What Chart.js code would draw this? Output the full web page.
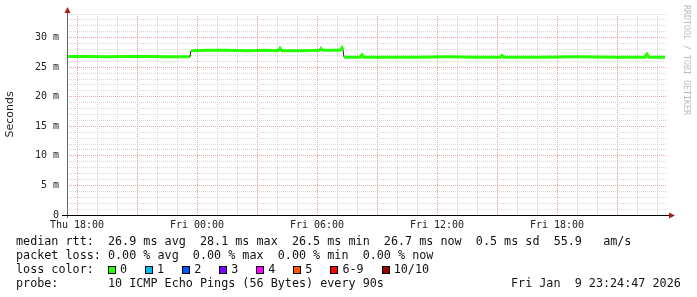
<!DOCTYPE html>
<html>
<head>
<meta charset="utf-8">
<script src="https://cdn.jsdelivr.net/npm/chart.js@4.4.1/dist/chart.umd.min.js"></script>
<style>
body { margin: 0; background: #fff; }
#wrap { position: relative; width: 697px; height: 297px; }
#legend { position: absolute; left: 16px; top: 234px; font-family: 'DejaVu Sans Mono', monospace; font-size: 11.75px; line-height: 14px; color: #111; white-space: pre; }
.box { display: inline-block; width: 8px; height: 8px; box-sizing: border-box; border: 1px solid #000; margin-right: 4px; margin-left: 18px; vertical-align: -1px; }
.box.first { margin-left: 0; }
#stamp { position: absolute; left: 511px; top: 276px; font-family: 'DejaVu Sans Mono', monospace; font-size: 11.75px; line-height: 14px; color: #111; white-space: pre; }
#credit { position: absolute; left: 682px; top: 5px; writing-mode: vertical-rl; font-family: 'DejaVu Sans Mono', monospace; font-size: 8.3px; color: #bbb; }
</style>
</head>
<body>
<div id="wrap">
<canvas id="smokeChart"></canvas>
<div id="legend"></div>
<div id="stamp">Fri Jan  9 23:24:47 2026</div>
<div id="credit">RRDTOOL / TOBI OETIKER</div>
</div>
<script>
// hours counted from Thu 00:00
var times = [17.5, 18.5, 19.5, 20.5, 21.5, 22.5, 23.65, 23.7, 24.5, 25.5, 26.5, 27.5, 28.05, 28.15, 28.25, 29.2, 30.1, 30.2, 30.3, 30.8, 31.15, 31.25, 31.3, 31.35, 32.15, 32.25, 32.35, 33.5, 35, 36.5, 38, 39.15, 39.25, 39.35, 41, 43, 45, 46.4, 46.5, 46.6, 47.4];
var medianRtt = [26.8, 26.8, 26.75, 26.8, 26.8, 26.75, 26.75, 27.8, 27.85, 27.85, 27.8, 27.85, 27.8, 28.2, 27.8, 27.8, 27.85, 28.1, 27.85, 27.85, 27.85, 28.3, 27.9, 26.7, 26.7, 27.1, 26.7, 26.7, 26.7, 26.75, 26.7, 26.7, 27.0, 26.7, 26.7, 26.75, 26.7, 26.7, 27.2, 26.7, 26.7];
var smokeMax = [26.85, 26.85, 26.8, 26.85, 26.85, 26.8, 26.8, 27.85, 27.9, 27.9, 27.85, 27.9, 27.85, 28.7, 27.85, 27.85, 27.9, 28.6, 27.9, 27.9, 27.9, 28.7, 27.95, 26.75, 26.75, 27.4, 26.75, 26.75, 26.75, 26.8, 26.75, 26.75, 27.3, 26.75, 26.75, 26.8, 26.75, 26.75, 27.5, 26.75, 26.75];
var dayNames = ['Thu', 'Fri'];
var lossLabels = ['0', '1', '2', '3', '4', '5', '6-9', '10/10'];
var lossColors = ['#26ff00', '#00b8ff', '#0059ff', '#7e00ff', '#ff00ff', '#ff5500', '#ff0000', '#a00000'];
var legendLines = [
    'median rtt:  26.9 ms avg  28.1 ms max  26.5 ms min  26.7 ms now  0.5 ms sd  55.9   am/s',
    'packet loss: 0.00 % avg  0.00 % max  0.00 % min  0.00 % now',
    'loss color:  ',
    'probe:       10 ICMP Echo Pings (56 Bytes) every 90s'
];

var html = '';
legendLines.forEach(function(line, i) {
    var row = line;
    if (i === 2) {
        lossLabels.forEach(function(lbl, j) {
            row += '<span class="box' + (j === 0 ? ' first' : '') + '" style="background:' + lossColors[j] + '"></span>' + lbl;
        });
    }
    html += row + '\n';
});
document.getElementById('legend').innerHTML = html;

function pts(values) {
    return times.map(function(t, i) { return { x: t, y: values[i] }; });
}

var axisArrows = {
    id: 'axisArrows',
    afterDraw: function(chart) {
        var ctx = chart.ctx, a = chart.chartArea;
        ctx.save();
        ctx.lineWidth = 1;
        ctx.strokeStyle = '#666';
        ctx.beginPath();
        ctx.moveTo(a.left + 0.5, a.bottom + 3);
        ctx.lineTo(a.left + 0.5, a.top - 3);
        ctx.stroke();
        ctx.strokeStyle = '#000';
        ctx.beginPath();
        ctx.moveTo(a.left - 5, a.bottom + 0.5);
        ctx.lineTo(a.right + 3, a.bottom + 0.5);
        ctx.stroke();
        ctx.fillStyle = '#a02020';
        ctx.beginPath();
        ctx.moveTo(a.left + 0.5, a.top - 7);
        ctx.lineTo(a.left - 2.5, a.top - 1);
        ctx.lineTo(a.left + 3.5, a.top - 1);
        ctx.closePath();
        ctx.fill();
        ctx.beginPath();
        ctx.moveTo(a.right + 8, a.bottom + 0.5);
        ctx.lineTo(a.right + 2, a.bottom - 2.5);
        ctx.lineTo(a.right + 2, a.bottom + 3.5);
        ctx.closePath();
        ctx.fill();
        ctx.restore();
    }
};

var smokeChart = new Chart(document.getElementById('smokeChart'), {
    type: 'line',
    data: {
        datasets: [{
            label: 'median rtt',
            data: pts(medianRtt),
            borderColor: lossColors[0],
            borderWidth: 3,
            pointRadius: 0,
            tension: 0,
            order: 0,
            segment: {
                borderColor: function(c) {
                    return Math.abs(c.p1.parsed.y - c.p0.parsed.y) > 0.5 ? '#222' : undefined;
                },
                borderWidth: function(c) {
                    return Math.abs(c.p1.parsed.y - c.p0.parsed.y) > 0.5 ? 1 : undefined;
                }
            }
        },
        {
            label: 'smoke',
            data: pts(smokeMax),
            borderColor: 'rgba(0,0,0,0)',
            borderWidth: 0,
            backgroundColor: '#999',
            fill: 0,
            pointRadius: 0,
            tension: 0,
            order: 1
        }]
    },
    options: {
        responsive: true,
        maintainAspectRatio: false,
        animation: false,
        layout: { padding: { top: 13, right: 30, left: 0, bottom: 0 } },
        plugins: { legend: { display: false }, tooltip: { enabled: false } },
        scales: {
            x: {
                type: 'linear',
                min: 17.5,
                max: 47.5,
                afterFit: function(s) { s.height = 82; },
                afterBuildTicks: function(s) {
                    var t = [];
                    for (var h = 18; h <= 47; h++) t.push({ value: h });
                    s.ticks = t;
                },
                grid: {
                    drawTicks: false,
                    lineWidth: 1,
                    color: function(c) { return c.tick && c.tick.value % 3 === 0 ? '#e6a4a4' : '#d9d9d9'; }
                },
                border: { display: false, dash: [1, 1] },
                ticks: {
                    autoSkip: false,
                    maxRotation: 0,
                    padding: 4,
                    color: '#222',
                    font: { family: 'DejaVu Sans Mono', size: 10 },
                    callback: function(v) {
                        if (v % 6 !== 0) return '';
                        var d = Math.floor(v / 24);
                        var hh = v % 24;
                        return dayNames[d] + ' ' + (hh < 10 ? '0' : '') + hh + ':00';
                    }
                }
            },
            y: {
                min: 0,
                max: 34,
                afterFit: function(s) { s.width = 67; },
                afterBuildTicks: function(s) {
                    var t = [];
                    for (var v = 0; v <= 34; v++) t.push({ value: v });
                    s.ticks = t;
                },
                grid: {
                    drawTicks: false,
                    lineWidth: 1,
                    color: function(c) { return c.tick && c.tick.value % 5 === 0 ? '#e6a4a4' : '#d9d9d9'; }
                },
                border: { display: false, dash: [1, 1] },
                title: {
                    display: true,
                    text: 'Seconds',
                    color: '#222',
                    font: { family: 'DejaVu Sans', size: 11 }
                },
                ticks: {
                    autoSkip: false,
                    padding: 8,
                    color: '#222',
                    font: { family: 'DejaVu Sans Mono', size: 10 },
                    callback: function(v) {
                        if (v % 5 !== 0) return '';
                        return v === 0 ? '0' : v + ' m';
                    }
                }
            }
        }
    },
    plugins: [axisArrows]
});
</script>
</body>
</html>
